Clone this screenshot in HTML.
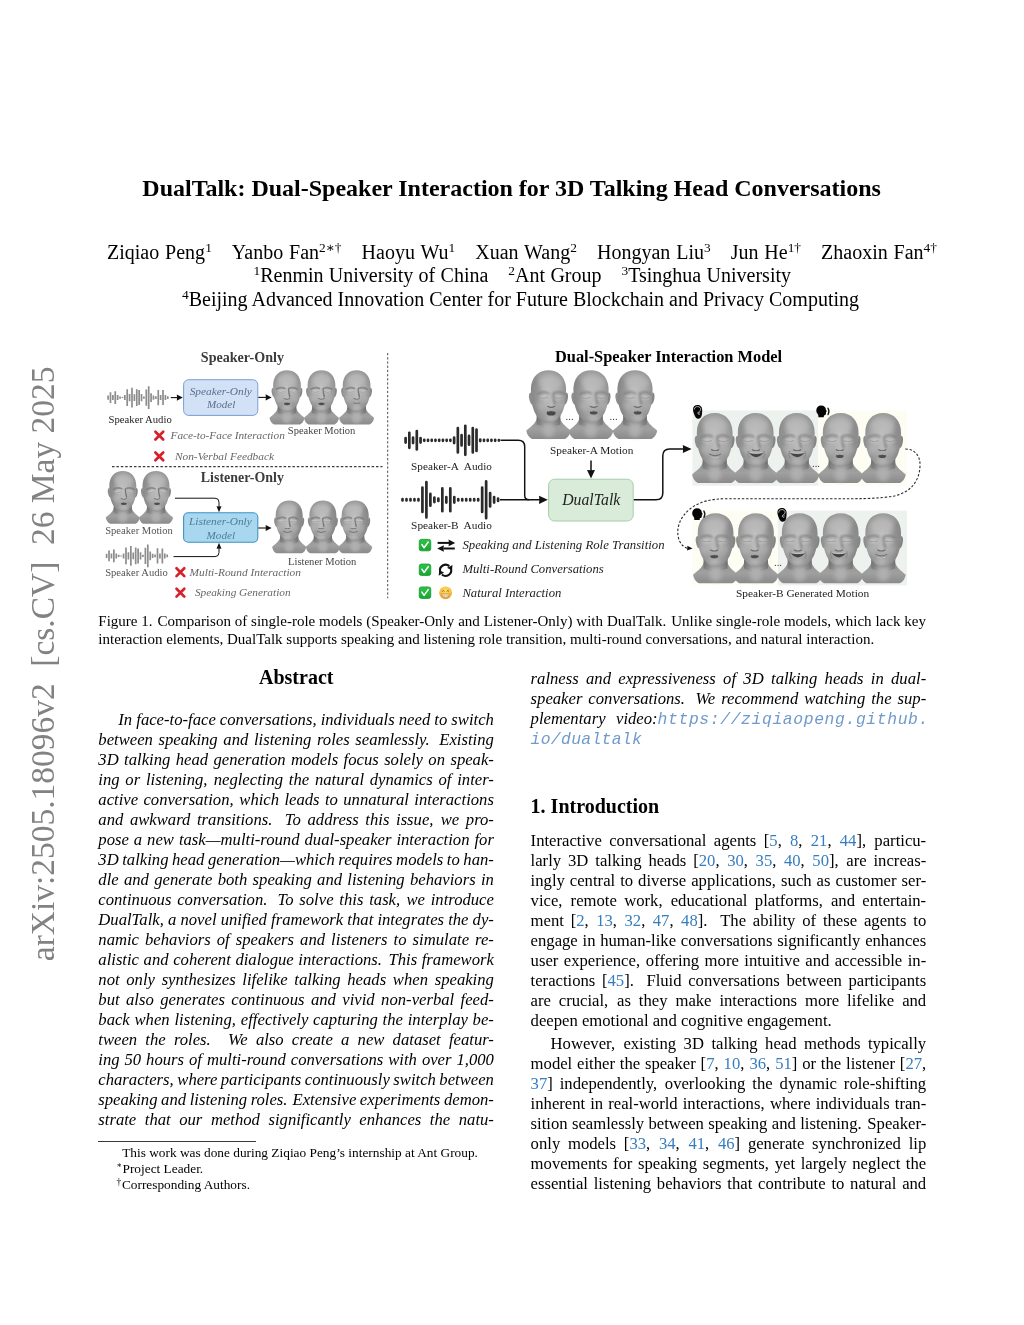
<!DOCTYPE html>
<html lang="en">
<head>
<meta charset="utf-8">
<title>DualTalk: Dual-Speaker Interaction for 3D Talking Head Conversations</title>
<style>
html,body{margin:0;padding:0;background:#fff;}
body{width:1024px;height:1325px;position:relative;overflow:hidden;
 font-family:"Liberation Serif","DejaVu Serif",serif;color:#000;}
.l{position:absolute;white-space:nowrap;line-height:0;height:0;margin:0;padding:0;}
.l>span.t{display:inline-block;line-height:0;white-space:nowrap;}
.b{font-weight:bold;}
.i{font-style:italic;}
.c{color:#367dbd;}
.u{font-family:"Liberation Mono","DejaVu Sans Mono",monospace;font-style:italic;color:#6f9acb;font-size:16.4px;letter-spacing:0.45px;}
.ss{display:inline-block;width:0;}
.q{display:inline-block;width:1em;}
sup{font-size:0.67em;vertical-align:baseline;position:relative;top:-0.51em;line-height:0;}
sup.fs{font-size:0.72em;top:-0.42em;letter-spacing:-0.3px;}
#stamp{position:absolute;left:0;top:0;width:0;height:0;}
#stamp span{position:absolute;white-space:nowrap;line-height:0;font-size:33.46px;color:#828282;
 transform-origin:0 0;transform:translate(42.9px,961.2px) rotate(-90deg);}
#rule{position:absolute;left:98.3px;top:1141px;width:157.6px;height:1px;background:#3a3a3a;}
#fig{position:absolute;left:0;top:0;}
#page{position:absolute;left:0;top:0;width:1024px;height:1325px;will-change:transform;}
</style>
</head>
<body>
<div id="page">
<div id="stamp"><span id="stampt">arXiv:2505.18096v2&nbsp; [cs.CV]&nbsp; 26 May 2025</span></div>
<svg id="fig" width="1024" height="1325" viewBox="0 0 1024 1325" font-family="'Liberation Serif','DejaVu Serif',serif">
<defs>
<radialGradient id="gh" cx="50%" cy="46%" r="62%" fx="47%" fy="42%">
 <stop offset="0" stop-color="#c3c3c3"/><stop offset=".45" stop-color="#aeaeae"/><stop offset=".8" stop-color="#949494"/><stop offset="1" stop-color="#7e7e7e"/>
</radialGradient>
<linearGradient id="gn" x1="0" x2="1" y1="0" y2="0">
 <stop offset="0" stop-color="#7a7a7a"/><stop offset=".35" stop-color="#a3a3a3"/><stop offset=".65" stop-color="#a3a3a3"/><stop offset="1" stop-color="#787878"/>
</linearGradient>
<linearGradient id="gb" x1="0" x2="0" y1="0" y2="1">
 <stop offset="0" stop-color="#8e8e8e"/><stop offset=".5" stop-color="#a0a0a0"/><stop offset="1" stop-color="#8a8a8a"/>
</linearGradient>
<linearGradient id="gsh" x1="0" x2="0" y1="0" y2="1">
 <stop offset="0" stop-color="#5f5f5f" stop-opacity=".5"/><stop offset="1" stop-color="#6a6a6a" stop-opacity="0"/>
</linearGradient>
<linearGradient id="gck" x1="0" x2="0" y1="0" y2="1"><stop offset="0" stop-color="#2cc448"/><stop offset="1" stop-color="#17a530"/></linearGradient>
<radialGradient id="gem" cx="50%" cy="38%" r="62%"><stop offset="0" stop-color="#ffe066"/><stop offset=".6" stop-color="#fbc53f"/><stop offset="1" stop-color="#ee9a2a"/></radialGradient>
<filter id="bl" x="-10%" y="-10%" width="120%" height="120%"><feGaussianBlur stdDeviation="1.9"/></filter>
<filter id="bl2" x="-20%" y="-20%" width="140%" height="140%"><feGaussianBlur stdDeviation="4.5"/></filter>
<filter id="bs" x="-5%" y="-5%" width="110%" height="110%"><feGaussianBlur stdDeviation="0.55"/></filter>
<clipPath id="hc"><path d="M50 0C74 0 89.500 17 89.500 44C89.500 62 88 78 82 92C76 106 64 118.500 50 118.500C36 118.500 24 106 18 92C12 78 10.500 62 10.500 44C10.500 17 26 0 50 0Z"/></clipPath>
<symbol id="hd" viewBox="0 0 100 155" overflow="visible">
 <path d="M24 108C20 122 9 127 0 136C2 146 7 152 13 154.500L87 154.500C93 152 98 146 100 136C91 127 80 122 76 108Z" fill="url(#gb)"/>
 <path d="M23.500 84V122Q50 134 76.500 122V84Z" fill="url(#gn)"/>
 <path d="M23.500 100Q50 128 76.500 100V122Q50 130 23.500 122Z" fill="url(#gsh)"/>
 <path d="M11 50C6 50 5 58 7 66C8.500 73 11 78 15 78Z" fill="#8e8e8e"/>
 <path d="M89 50C94 50 95 58 93 66C91.500 73 89 78 85 78Z" fill="#858585"/>
 <path d="M50 0C74 0 89.500 17 89.500 44C89.500 62 88 78 82 92C76 106 64 118.500 50 118.500C36 118.500 24 106 18 92C12 78 10.500 62 10.500 44C10.500 17 26 0 50 0Z" fill="url(#gh)"/>
 <ellipse cx="50" cy="136" rx="14" ry="15" fill="#b8b8b8" opacity=".7" filter="url(#bl2)"/>
</symbol>
<symbol id="ft" viewBox="0 0 100 155" overflow="visible">
 <g filter="url(#bl2)">
 <ellipse cx="50" cy="108" rx="13" ry="7" fill="#c4c4c4" opacity=".7"/>
 <ellipse cx="50" cy="27" rx="26" ry="16" fill="#bcbcbc" opacity=".6"/>
 <ellipse cx="27" cy="80" rx="9" ry="11" fill="#b8b8b8" opacity=".6"/>
 <ellipse cx="73" cy="80" rx="9" ry="11" fill="#b0b0b0" opacity=".6"/>
 </g>
 <g filter="url(#bl)">
 <path d="M18 55Q32 45 46 53" stroke="#7e7e7e" stroke-width="5" fill="none" opacity=".8"/>
 <path d="M54 53Q68 45 82 55" stroke="#7e7e7e" stroke-width="5" fill="none" opacity=".8"/>
 <ellipse cx="32.500" cy="61" rx="10" ry="5" fill="#c4c4c4" opacity=".85"/>
 <ellipse cx="67.500" cy="61" rx="10" ry="5" fill="#c1c1c1" opacity=".85"/>
 <path d="M48 52C47.500 62 45.500 72 43 79C47 83 53 83 57 79C54.500 72 52.500 62 52 52Z" fill="#bababa"/>
 <path d="M52.500 52C53 62 54.500 72 57 79C60 78 60.500 75 59 71C57 65 56 58 56 52Z" fill="#707070" opacity=".9"/>
 </g>
 <path d="M22 61Q32.500 65.500 43 61" stroke="#868686" stroke-width="1.300" fill="none" filter="url(#bs)"/>
 <path d="M57 61Q67.500 65.500 78 61" stroke="#868686" stroke-width="1.300" fill="none" filter="url(#bs)"/>
 <path d="M42 81Q50 86 58 81" stroke="#6a6a6a" stroke-width="2.400" fill="none" stroke-linecap="round" filter="url(#bs)"/>
</symbol>
</defs>
<text x="200.80" y="362.00" font-size="14.08" font-weight="bold" fill="#3c3c3c">Speaker-Only</text>
<text x="200.80" y="482.00" font-size="13.95" font-weight="bold" fill="#3c3c3c">Listener-Only</text>
<path d="M108.10 395.40V399.80M110.49 392.30V402.90M112.88 395.10V400.10M115.26 391.30V403.90M117.65 395.10V400.10M120.04 396.55V398.65M122.43 397.10V398.10M124.82 395.10V400.10M127.20 389.30V405.90M129.59 393.90V401.30M131.98 387.80V407.40M134.37 394.30V400.90M136.76 389.30V405.90M139.14 390.10V405.10M141.53 393.90V401.30M143.92 396.55V398.65M146.31 389.50V405.70M148.70 386.20V409.00M151.08 393.20V402.00M153.47 395.40V399.80M155.86 396.30V398.90M158.25 389.90V405.30M160.64 395.10V400.10M163.02 390.10V405.10M165.41 395.10V400.10M167.80 396.30V398.90" stroke="#8c8c8c" stroke-width="1.70" stroke-linecap="butt" fill="none"/>
<path d="M106.60 553.70V558.10M109.02 550.60V561.20M111.45 553.40V558.40M113.87 549.60V562.20M116.30 553.40V558.40M118.72 554.85V556.95M121.14 555.40V556.40M123.57 553.40V558.40M125.99 547.60V564.20M128.42 552.20V559.60M130.84 546.10V565.70M133.26 552.60V559.20M135.69 547.60V564.20M138.11 548.40V563.40M140.54 552.20V559.60M142.96 554.85V556.95M145.38 547.80V564.00M147.81 544.50V567.30M150.23 551.50V560.30M152.66 553.70V558.10M155.08 554.60V557.20M157.50 548.20V563.60M159.93 553.40V558.40M162.35 548.40V563.40M164.78 553.40V558.40M167.20 554.60V557.20" stroke="#8c8c8c" stroke-width="1.70" stroke-linecap="butt" fill="none"/>
<path d="M112 466.7H382.5" stroke="#3c3c3c" stroke-width="1.3" stroke-dasharray="2.5 1.9" fill="none"/>
<path d="M387.7 353V598.2" stroke="#444" stroke-width="0.95" stroke-dasharray="2.3 1.9" fill="none"/>
<rect x="183.6" y="379.7" width="74.2" height="35.7" rx="5" ry="5" fill="#d2e1f6" stroke="#7c9fd2" stroke-width="1"/>
<text x="189.70" y="394.60" font-size="11.37" font-style="italic" fill="#5b6f8a">Speaker-Only</text>
<text x="207.00" y="407.70" font-size="11.12" font-style="italic" fill="#5b6f8a">Model</text>
<path d="M170.8 397.6H179" stroke="#111" stroke-width="1.1" fill="none"/>
<path d="M182.80 397.60 L176.80 400.70 L177.04 397.60 L176.80 394.50 Z" fill="#111"/>
<path d="M258.3 397.4H268" stroke="#111" stroke-width="1.1" fill="none"/>
<path d="M271.60 397.40 L265.60 400.50 L265.84 397.40 L265.60 394.30 Z" fill="#111"/>
<g transform="translate(269.45 370.20) scale(0.3510)" filter="url(#bs)">
<use href="#hd" width="100" height="155"/>
<g clip-path="url(#hc)"><use href="#ft" x="0.0" width="100" height="155"/></g>
<ellipse cx="50.0" cy="95" rx="8.5" ry="4.6" fill="#4e4e4e"/>
<path d="M43.0 92.2 Q50.0 90 57.0 92.2" stroke="#c9c9c9" stroke-width="1.6" fill="none"/>
</g>
<g transform="translate(303.95 370.20) scale(0.3510)" filter="url(#bs)">
<use href="#hd" width="100" height="155"/>
<g clip-path="url(#hc)"><use href="#ft" x="0.0" width="100" height="155"/></g>
<ellipse cx="50.0" cy="95" rx="8.5" ry="4.6" fill="#4e4e4e"/>
<path d="M43.0 92.2 Q50.0 90 57.0 92.2" stroke="#c9c9c9" stroke-width="1.6" fill="none"/>
</g>
<g transform="translate(339.05 370.20) scale(0.3510)" filter="url(#bs)">
<use href="#hd" width="100" height="155"/>
<g clip-path="url(#hc)"><use href="#ft" x="0.0" width="100" height="155"/></g>
<path d="M41.0 94 Q50.0 96 59.0 94" stroke="#6c6c6c" stroke-width="2" fill="none" stroke-linecap="round"/>
<path d="M43.0 98.5 Q50.0 101 57.0 98.5" stroke="#c4c4c4" stroke-width="2" fill="none" opacity=".7"/>
</g>
<text x="108.60" y="422.80" font-size="10.68" fill="#1c1c1c">Speaker Audio</text>
<text x="287.80" y="433.80" font-size="10.54" fill="#454545">Speaker Motion</text>
<path d="M155.40 431.70L163.20 439.50M163.20 431.70L155.40 439.50" stroke="#d6202a" stroke-width="2.7" stroke-linecap="round" fill="none"/>
<text x="170.60" y="439.00" font-size="11.27" font-style="italic" fill="#666">Face-to-Face Interaction</text>
<path d="M155.40 452.50L163.20 460.30M163.20 452.50L155.40 460.30" stroke="#d6202a" stroke-width="2.7" stroke-linecap="round" fill="none"/>
<text x="175.00" y="460.10" font-size="11.32" font-style="italic" fill="#666">Non-Verbal Feedback</text>
<g transform="translate(105.70 471.00) scale(0.3419)" filter="url(#bs)">
<use href="#hd" width="100" height="155"/>
<g clip-path="url(#hc)"><ellipse cx="20.0" cy="62" rx="10.8" ry="44" fill="#666" opacity=".3" filter="url(#bl2)"/></g>
<g clip-path="url(#hc)"><use href="#ft" x="3.0" width="100" height="155"/></g>
<ellipse cx="53.0" cy="95" rx="8.5" ry="4.6" fill="#4e4e4e"/>
<path d="M46.0 92.2 Q53.0 90 60.0 92.2" stroke="#c9c9c9" stroke-width="1.6" fill="none"/>
</g>
<g transform="translate(138.90 471.00) scale(0.3419)" filter="url(#bs)">
<use href="#hd" width="100" height="155"/>
<g clip-path="url(#hc)"><ellipse cx="20.0" cy="62" rx="10.8" ry="44" fill="#666" opacity=".3" filter="url(#bl2)"/></g>
<g clip-path="url(#hc)"><use href="#ft" x="3.0" width="100" height="155"/></g>
<ellipse cx="53.0" cy="95" rx="8.5" ry="4.6" fill="#4e4e4e"/>
<path d="M46.0 92.2 Q53.0 90 60.0 92.2" stroke="#c9c9c9" stroke-width="1.6" fill="none"/>
</g>
<text x="105.20" y="533.80" font-size="10.55" fill="#555">Speaker Motion</text>
<text x="105.20" y="575.70" font-size="10.58" fill="#555">Speaker Audio</text>
<rect x="183.6" y="512.7" width="74.2" height="29.6" rx="4.5" ry="4.5" fill="#a9d7ef" stroke="#3f93c4" stroke-width="1.1"/>
<text x="189.00" y="525.20" font-size="11.35" font-style="italic" fill="#4d7d94">Listener-Only</text>
<text x="206.60" y="538.60" font-size="11.12" font-style="italic" fill="#4d7d94">Model</text>
<path d="M175 498.2H215Q219 498.2 219 502.2V508" stroke="#111" stroke-width="1" fill="none"/>
<path d="M219.00 512.30 L216.50 506.30 L219.00 506.54 L221.50 506.30 Z" fill="#111"/>
<path d="M173.5 556.6H215Q219 556.6 219 552.6V547" stroke="#111" stroke-width="1" fill="none"/>
<path d="M219.00 542.70 L221.50 548.70 L219.00 548.46 L216.50 548.70 Z" fill="#111"/>
<path d="M258.3 528H268" stroke="#111" stroke-width="1.1" fill="none"/>
<path d="M271.60 528.00 L265.60 531.10 L265.84 528.00 L265.60 524.90 Z" fill="#111"/>
<g transform="translate(272.10 500.40) scale(0.3419)" filter="url(#bs)">
<use href="#hd" width="100" height="155"/>
<g clip-path="url(#hc)"><ellipse cx="80.0" cy="62" rx="14.0" ry="44" fill="#666" opacity=".3" filter="url(#bl2)"/></g>
<g clip-path="url(#hc)"><use href="#ft" x="-5.0" width="100" height="155"/></g>
<path d="M33.0 91 Q45.0 98 57.0 91" stroke="#6a6a6a" stroke-width="2.2" fill="none" stroke-linecap="round"/>
<path d="M36.0 97 Q45.0 102 54.0 97" stroke="#c6c6c6" stroke-width="2" fill="none" opacity=".7"/>
</g>
<g transform="translate(305.80 500.40) scale(0.3419)" filter="url(#bs)">
<use href="#hd" width="100" height="155"/>
<g clip-path="url(#hc)"><ellipse cx="80.0" cy="62" rx="14.0" ry="44" fill="#666" opacity=".3" filter="url(#bl2)"/></g>
<g clip-path="url(#hc)"><use href="#ft" x="-5.0" width="100" height="155"/></g>
<path d="M33.0 91 Q45.0 98 57.0 91" stroke="#6a6a6a" stroke-width="2.2" fill="none" stroke-linecap="round"/>
<path d="M36.0 97 Q45.0 102 54.0 97" stroke="#c6c6c6" stroke-width="2" fill="none" opacity=".7"/>
</g>
<g transform="translate(338.10 500.40) scale(0.3419)" filter="url(#bs)">
<use href="#hd" width="100" height="155"/>
<g clip-path="url(#hc)"><ellipse cx="80.0" cy="62" rx="14.0" ry="44" fill="#666" opacity=".3" filter="url(#bl2)"/></g>
<g clip-path="url(#hc)"><use href="#ft" x="-5.0" width="100" height="155"/></g>
<path d="M33.0 91 Q45.0 98 57.0 91" stroke="#6a6a6a" stroke-width="2.2" fill="none" stroke-linecap="round"/>
<path d="M36.0 97 Q45.0 102 54.0 97" stroke="#c6c6c6" stroke-width="2" fill="none" opacity=".7"/>
</g>
<text x="288.00" y="565.30" font-size="10.57" fill="#454545">Listener Motion</text>
<path d="M176.50 568.30L184.30 576.10M184.30 568.30L176.50 576.10" stroke="#d6202a" stroke-width="2.7" stroke-linecap="round" fill="none"/>
<text x="189.60" y="575.70" font-size="11.36" font-style="italic" fill="#666">Multi-Round Interaction</text>
<path d="M176.50 588.80L184.30 596.60M184.30 588.80L176.50 596.60" stroke="#d6202a" stroke-width="2.7" stroke-linecap="round" fill="none"/>
<text x="194.90" y="596.20" font-size="11.31" font-style="italic" fill="#666">Speaking Generation</text>
<text x="555.00" y="362.00" font-size="16.39" font-weight="bold" fill="#000">Dual-Speaker Interaction Model</text>
<path d="M405.60 438.00V442.60M409.33 432.80V447.80M413.06 437.50V443.10M416.80 431.20V449.40M420.53 438.00V442.60M424.26 439.80V440.80M427.99 439.80V440.80M431.72 439.80V440.80M435.46 439.80V440.80M439.19 439.80V440.80M442.92 439.80V440.80M446.65 439.80V440.80M450.38 439.80V440.80M454.12 437.50V443.10M457.85 428.10V452.50M461.58 435.15V445.45M465.31 425.80V454.80M469.04 435.90V444.70M472.78 428.10V452.50M476.51 429.70V450.90M480.24 439.50V441.10M483.97 439.80V440.80M487.70 439.80V440.80M491.44 439.80V440.80M495.17 439.80V440.80M498.90 440.00V440.60" stroke="#2b2b2b" stroke-width="2.70" stroke-linecap="round" fill="none"/>
<path d="M402.50 499.20V500.40M406.48 499.20V500.40M410.47 499.20V500.40M414.45 499.20V500.40M418.43 499.20V500.40M422.42 487.60V512.00M426.40 482.10V517.50M430.38 493.90V505.70M434.37 497.50V502.10M438.35 498.60V501.00M442.33 488.40V511.20M446.32 497.00V502.60M450.30 488.40V511.20M454.28 497.00V502.60M458.27 499.20V500.40M462.25 499.20V500.40M466.23 499.20V500.40M470.22 499.20V500.40M474.20 499.20V500.40M478.18 499.20V500.40M482.17 487.60V512.00M486.15 481.40V518.20M490.13 493.10V506.50M494.12 497.00V502.60M498.10 498.60V501.00" stroke="#2b2b2b" stroke-width="2.70" stroke-linecap="round" fill="none"/>
<text x="411.10" y="469.70" font-size="11.22" fill="#1c1c1c">Speaker-A&#160; Audio</text>
<text x="411.10" y="528.90" font-size="11.31" fill="#1c1c1c">Speaker-B&#160; Audio</text>
<path d="M500.6 440.3H518.200Q524.700 440.3 524.700 446.800V495.300Q524.700 499.8 529.200 499.8" stroke="#111" stroke-width="1.45" fill="none"/>
<path d="M500 499.8H541" stroke="#111" stroke-width="1.45" fill="none"/>
<path d="M547.80 499.80 L539.00 503.90 L539.35 499.80 L539.00 495.70 Z" fill="#111"/>
<rect x="548.6" y="479.2" width="84.6" height="41.8" rx="6" ry="6" fill="#d9ecd9" stroke="#a9cbaa" stroke-width="1"/>
<text x="562.20" y="504.50" font-size="15.76" font-style="italic" fill="#222">DualTalk</text>
<path d="M591 460.5V472" stroke="#111" stroke-width="1.5" fill="none"/>
<path d="M591.00 478.60 L587.00 470.00 L591.00 470.34 L595.00 470.00 Z" fill="#111"/>
<path d="M633.8 499.8H656Q662.8 499.8 662.8 493V455.8Q662.8 449 669.6 449H684" stroke="#111" stroke-width="1.5" fill="none"/>
<path d="M691.60 449.00 L682.80 453.10 L683.15 449.00 L682.80 444.90 Z" fill="#111"/>
<g transform="translate(526.24 370.20) scale(0.4452)" filter="url(#bs)">
<use href="#hd" width="100" height="155"/>
<g clip-path="url(#hc)"><ellipse cx="20.0" cy="62" rx="15.6" ry="44" fill="#666" opacity=".3" filter="url(#bl2)"/></g>
<g clip-path="url(#hc)"><use href="#ft" x="6.0" width="100" height="155"/></g>
<ellipse cx="56.0" cy="96" rx="10" ry="6" fill="#474747"/>
<path d="M48.0 92 Q56.0 89.5 64.0 92" stroke="#cacaca" stroke-width="1.8" fill="none"/>
</g>
<g transform="translate(568.74 370.20) scale(0.4452)" filter="url(#bs)">
<use href="#hd" width="100" height="155"/>
<g clip-path="url(#hc)"><ellipse cx="20.0" cy="62" rx="15.6" ry="44" fill="#666" opacity=".3" filter="url(#bl2)"/></g>
<g clip-path="url(#hc)"><use href="#ft" x="6.0" width="100" height="155"/></g>
<ellipse cx="56.0" cy="95" rx="8.5" ry="4.6" fill="#4e4e4e"/>
<path d="M49.0 92.2 Q56.0 90 63.0 92.2" stroke="#c9c9c9" stroke-width="1.6" fill="none"/>
</g>
<g transform="translate(612.74 370.20) scale(0.4452)" filter="url(#bs)">
<use href="#hd" width="100" height="155"/>
<g clip-path="url(#hc)"><ellipse cx="20.0" cy="62" rx="15.6" ry="44" fill="#666" opacity=".3" filter="url(#bl2)"/></g>
<g clip-path="url(#hc)"><use href="#ft" x="6.0" width="100" height="155"/></g>
<ellipse cx="56.0" cy="95" rx="8.5" ry="4.6" fill="#4e4e4e"/>
<path d="M49.0 92.2 Q56.0 90 63.0 92.2" stroke="#c9c9c9" stroke-width="1.6" fill="none"/>
</g>
<text x="565.60" y="419.60" font-size="10.67" fill="#333">...</text>
<text x="609.60" y="419.60" font-size="10.67" fill="#333">...</text>
<text x="550.00" y="454.30" font-size="11.28" fill="#1c1c1c">Speaker-A Motion</text>
<rect x="692.4" y="410.4" width="126" height="75.4" fill="#eef2ef"/>
<rect x="818.4" y="410.4" width="88.6" height="75.4" fill="#fdfdf3"/>
<rect x="692.4" y="510.6" width="85.6" height="74.8" fill="#fdfdf3"/>
<rect x="778" y="510.6" width="129" height="74.8" fill="#eef2ef"/>
<g transform="translate(692.05 413.00) scale(0.4529)" filter="url(#bs)">
<use href="#hd" width="100" height="155"/>
<g clip-path="url(#hc)"><ellipse cx="20.0" cy="62" rx="7.6" ry="44" fill="#666" opacity=".3" filter="url(#bl2)"/></g>
<g clip-path="url(#hc)"><use href="#ft" x="1.0" width="100" height="155"/></g>
<path d="M39.0 91 Q51.0 98 63.0 91" stroke="#6a6a6a" stroke-width="2.2" fill="none" stroke-linecap="round"/>
<path d="M42.0 97 Q51.0 102 60.0 97" stroke="#c6c6c6" stroke-width="2" fill="none" opacity=".7"/>
</g>
<g transform="translate(733.05 413.00) scale(0.4529)" filter="url(#bs)">
<use href="#hd" width="100" height="155"/>
<g clip-path="url(#hc)"><ellipse cx="20.0" cy="62" rx="7.6" ry="44" fill="#666" opacity=".3" filter="url(#bl2)"/></g>
<g clip-path="url(#hc)"><use href="#ft" x="1.0" width="100" height="155"/></g>
<path d="M35.0 88 Q51.0 92 67.0 88 Q51.0 107 35.0 88 Z" fill="#454545"/>
<path d="M37.0 87.5 Q51.0 91 65.0 87.5" stroke="#cfcfcf" stroke-width="1.8" fill="none"/>
<path d="M34.0 84 Q30.0 92 36.0 100" stroke="#7a7a7a" stroke-width="1.6" fill="none"/>
<path d="M68.0 84 Q72.0 92 66.0 100" stroke="#7a7a7a" stroke-width="1.6" fill="none"/>
</g>
<g transform="translate(774.15 413.00) scale(0.4529)" filter="url(#bs)">
<use href="#hd" width="100" height="155"/>
<g clip-path="url(#hc)"><ellipse cx="20.0" cy="62" rx="7.6" ry="44" fill="#666" opacity=".3" filter="url(#bl2)"/></g>
<g clip-path="url(#hc)"><use href="#ft" x="1.0" width="100" height="155"/></g>
<path d="M35.0 88 Q51.0 92 67.0 88 Q51.0 107 35.0 88 Z" fill="#454545"/>
<path d="M37.0 87.5 Q51.0 91 65.0 87.5" stroke="#cfcfcf" stroke-width="1.8" fill="none"/>
<path d="M34.0 84 Q30.0 92 36.0 100" stroke="#7a7a7a" stroke-width="1.6" fill="none"/>
<path d="M68.0 84 Q72.0 92 66.0 100" stroke="#7a7a7a" stroke-width="1.6" fill="none"/>
</g>
<g transform="translate(818.05 413.00) scale(0.4529)" filter="url(#bs)">
<use href="#hd" width="100" height="155"/>
<g clip-path="url(#hc)"><ellipse cx="80.0" cy="62" rx="9.2" ry="44" fill="#666" opacity=".3" filter="url(#bl2)"/></g>
<g clip-path="url(#hc)"><use href="#ft" x="-2.0" width="100" height="155"/></g>
<ellipse cx="48.0" cy="95" rx="8.5" ry="4.6" fill="#4e4e4e"/>
<path d="M41.0 92.2 Q48.0 90 55.0 92.2" stroke="#c9c9c9" stroke-width="1.6" fill="none"/>
</g>
<g transform="translate(860.55 413.00) scale(0.4529)" filter="url(#bs)">
<use href="#hd" width="100" height="155"/>
<g clip-path="url(#hc)"><ellipse cx="80.0" cy="62" rx="9.2" ry="44" fill="#666" opacity=".3" filter="url(#bl2)"/></g>
<g clip-path="url(#hc)"><use href="#ft" x="-2.0" width="100" height="155"/></g>
<ellipse cx="48.0" cy="95" rx="8.5" ry="4.6" fill="#4e4e4e"/>
<path d="M41.0 92.2 Q48.0 90 55.0 92.2" stroke="#c9c9c9" stroke-width="1.6" fill="none"/>
</g>
<g transform="translate(692.99 513.30) scale(0.4523)" filter="url(#bs)">
<use href="#hd" width="100" height="155"/>
<g clip-path="url(#hc)"><ellipse cx="80.0" cy="62" rx="10.8" ry="44" fill="#666" opacity=".3" filter="url(#bl2)"/></g>
<g clip-path="url(#hc)"><use href="#ft" x="-3.0" width="100" height="155"/></g>
<ellipse cx="47.0" cy="95" rx="8.5" ry="4.6" fill="#4e4e4e"/>
<path d="M40.0 92.2 Q47.0 90 54.0 92.2" stroke="#c9c9c9" stroke-width="1.6" fill="none"/>
</g>
<g transform="translate(733.39 513.30) scale(0.4523)" filter="url(#bs)">
<use href="#hd" width="100" height="155"/>
<g clip-path="url(#hc)"><ellipse cx="80.0" cy="62" rx="10.8" ry="44" fill="#666" opacity=".3" filter="url(#bl2)"/></g>
<g clip-path="url(#hc)"><use href="#ft" x="-3.0" width="100" height="155"/></g>
<ellipse cx="47.0" cy="95" rx="8.5" ry="4.6" fill="#4e4e4e"/>
<path d="M40.0 92.2 Q47.0 90 54.0 92.2" stroke="#c9c9c9" stroke-width="1.6" fill="none"/>
</g>
<g transform="translate(777.09 513.30) scale(0.4523)" filter="url(#bs)">
<use href="#hd" width="100" height="155"/>
<g clip-path="url(#hc)"><ellipse cx="80.0" cy="62" rx="12.4" ry="44" fill="#666" opacity=".3" filter="url(#bl2)"/></g>
<g clip-path="url(#hc)"><use href="#ft" x="-4.0" width="100" height="155"/></g>
<path d="M30.0 88 Q46.0 92 62.0 88 Q46.0 107 30.0 88 Z" fill="#454545"/>
<path d="M32.0 87.5 Q46.0 91 60.0 87.5" stroke="#cfcfcf" stroke-width="1.8" fill="none"/>
<path d="M29.0 84 Q25.0 92 31.0 100" stroke="#7a7a7a" stroke-width="1.6" fill="none"/>
<path d="M63.0 84 Q67.0 92 61.0 100" stroke="#7a7a7a" stroke-width="1.6" fill="none"/>
</g>
<g transform="translate(818.09 513.30) scale(0.4523)" filter="url(#bs)">
<use href="#hd" width="100" height="155"/>
<g clip-path="url(#hc)"><ellipse cx="80.0" cy="62" rx="12.4" ry="44" fill="#666" opacity=".3" filter="url(#bl2)"/></g>
<g clip-path="url(#hc)"><use href="#ft" x="-4.0" width="100" height="155"/></g>
<path d="M30.0 88 Q46.0 92 62.0 88 Q46.0 107 30.0 88 Z" fill="#454545"/>
<path d="M32.0 87.5 Q46.0 91 60.0 87.5" stroke="#cfcfcf" stroke-width="1.8" fill="none"/>
<path d="M29.0 84 Q25.0 92 31.0 100" stroke="#7a7a7a" stroke-width="1.6" fill="none"/>
<path d="M63.0 84 Q67.0 92 61.0 100" stroke="#7a7a7a" stroke-width="1.6" fill="none"/>
</g>
<g transform="translate(860.59 513.30) scale(0.4523)" filter="url(#bs)">
<use href="#hd" width="100" height="155"/>
<g clip-path="url(#hc)"><ellipse cx="80.0" cy="62" rx="12.4" ry="44" fill="#666" opacity=".3" filter="url(#bl2)"/></g>
<g clip-path="url(#hc)"><use href="#ft" x="-4.0" width="100" height="155"/></g>
<path d="M34.0 91 Q46.0 98 58.0 91" stroke="#6a6a6a" stroke-width="2.2" fill="none" stroke-linecap="round"/>
<path d="M37.0 97 Q46.0 102 55.0 97" stroke="#c6c6c6" stroke-width="2" fill="none" opacity=".7"/>
</g>
<text x="812.00" y="466.50" font-size="10.67" fill="#333">...</text>
<text x="774.00" y="566.00" font-size="10.67" fill="#333">...</text>
<text x="736.00" y="597.40" font-size="11.33" fill="#1c1c1c">Speaker-B Generated Motion</text>
<path d="M905.3 449C915 449 920.500 456 920 466C919.500 480 912 492 894 496C880 498.700 860 498.700 850 498.700L728 498.700C712 498.700 700 501 690 509C680 517 676 528 678.500 538C680 544 684 547.500 688 548.400" stroke="#2a2a2a" stroke-width="1.1" stroke-dasharray="2.4 1.8" fill="none"/>
<path d="M692.60 548.60 L686.92 550.41 L687.34 548.14 L687.32 545.83 Z" fill="#111"/>
<g transform="translate(697.60 411.90) scale(1.000)">
<path d="M-0.4 -6.9C2.600 -7 4.700 -4.900 4.600 -2C4.550 0.200 4.500 1.600 4.200 3C3.800 5.200 2.300 7 0.300 6.800C-1.800 6.600 -2.800 4.200 -3.600 1.800C-4.200 0 -4.800 -1.600 -4.500 -3.400C-4.200 -5.500 -2.600 -6.850 -0.400 -6.900Z" fill="#050505"/>
<path d="M-3.300 -2.700C-3.100 -4.600 -1.500 -5.400 0 -5.300C1.800 -5.200 3.200 -4.100 3.100 -2.600C3.050 -1.900 2.700 -1.400 2.300 -1" stroke="#e8e8e8" stroke-width="0.75" fill="none" stroke-linecap="round"/>
<path d="M2.200 0.100C1 -0.300 0.200 0.500 0.300 1.300C0.400 2.100 1.300 2.600 2.100 2.200" stroke="#f4f4f4" stroke-width="0.85" fill="none" stroke-linecap="round"/>
</g>
<g transform="translate(821.70 411.50) scale(1.000)">
<path d="M-0.6 -6.05C2.300 -6.050 4.200 -4.100 4.250 -1.800C4.270 -1.400 5.100 -0.600 5.100 -0.200C5.100 0.250 4.300 0.300 4.300 0.700C4.300 1.300 4.500 1.700 4.100 2.200C4.100 3.200 3.500 3.700 2.500 3.700C2.100 3.700 2.100 5.800 2.100 5.800H-3.300C-3.200 4.200 -3.400 3.300 -4.200 2.300C-5.100 1.200 -5.500 0.100 -5.400 -1.500C-5.200 -4.200 -3.200 -6.050 -0.600 -6.050Z" fill="#050505"/>
<path d="M6.200 -3.300Q8.300 -0.100 6.300 3.100" stroke="#151515" stroke-width="1.25" fill="none" stroke-linecap="round"/>
</g>
<g transform="translate(697.60 514.20) scale(1.000)">
<path d="M-0.6 -6.05C2.300 -6.050 4.200 -4.100 4.250 -1.800C4.270 -1.400 5.100 -0.600 5.100 -0.200C5.100 0.250 4.300 0.300 4.300 0.700C4.300 1.300 4.500 1.700 4.100 2.200C4.100 3.200 3.500 3.700 2.500 3.700C2.100 3.700 2.100 5.800 2.100 5.800H-3.300C-3.200 4.200 -3.400 3.300 -4.200 2.300C-5.100 1.200 -5.500 0.100 -5.400 -1.500C-5.200 -4.200 -3.200 -6.050 -0.600 -6.050Z" fill="#050505"/>
<path d="M6.200 -3.300Q8.300 -0.100 6.300 3.100" stroke="#151515" stroke-width="1.25" fill="none" stroke-linecap="round"/>
</g>
<g transform="translate(782.00 514.90) scale(1.000)">
<path d="M-0.4 -6.9C2.600 -7 4.700 -4.900 4.600 -2C4.550 0.200 4.500 1.600 4.200 3C3.800 5.200 2.300 7 0.300 6.800C-1.800 6.600 -2.800 4.200 -3.600 1.800C-4.200 0 -4.800 -1.600 -4.500 -3.400C-4.200 -5.500 -2.600 -6.850 -0.400 -6.900Z" fill="#050505"/>
<path d="M-3.300 -2.700C-3.100 -4.600 -1.500 -5.400 0 -5.300C1.800 -5.200 3.200 -4.100 3.100 -2.600C3.050 -1.900 2.700 -1.400 2.300 -1" stroke="#e8e8e8" stroke-width="0.75" fill="none" stroke-linecap="round"/>
<path d="M2.200 0.100C1 -0.300 0.200 0.500 0.300 1.300C0.400 2.100 1.300 2.600 2.100 2.200" stroke="#f4f4f4" stroke-width="0.85" fill="none" stroke-linecap="round"/>
</g>
<rect x="419.25" y="539.35" width="11.50" height="11.50" rx="2.2" ry="2.2" fill="url(#gck)" stroke="#18982f" stroke-width=".8"/>
<path d="M421.90 544.50L424.10 547.80L428.20 542.00" stroke="#fff" stroke-width="1.5" fill="none" stroke-linecap="round" stroke-linejoin="round"/>
<rect x="419.25" y="564.05" width="11.50" height="11.50" rx="2.2" ry="2.2" fill="url(#gck)" stroke="#18982f" stroke-width=".8"/>
<path d="M421.90 569.20L424.10 572.50L428.20 566.70" stroke="#fff" stroke-width="1.5" fill="none" stroke-linecap="round" stroke-linejoin="round"/>
<rect x="419.25" y="586.95" width="11.50" height="11.50" rx="2.2" ry="2.2" fill="url(#gck)" stroke="#18982f" stroke-width=".8"/>
<path d="M421.90 592.10L424.10 595.40L428.20 589.60" stroke="#fff" stroke-width="1.5" fill="none" stroke-linecap="round" stroke-linejoin="round"/>
<path d="M437.6 542.9H449" stroke="#111" stroke-width="2" fill="none"/>
<path d="M455.20 542.90 L448.60 546.20 L448.86 542.90 L448.60 539.60 Z" fill="#111"/>
<path d="M454.8 548.5H443.4" stroke="#111" stroke-width="2" fill="none"/>
<path d="M437.20 548.50 L443.80 545.20 L443.54 548.50 L443.80 551.80 Z" fill="#111"/>
<path d="M440.15 571.6A5.6 5.6 0 0 1 449.3 566.1" stroke="#111" stroke-width="2.1" fill="none"/>
<path d="M452.00 570.60 L447.01 567.82 L449.84 566.53 L452.48 564.91 Z" fill="#111"/>
<path d="M451.05 569A5.6 5.6 0 0 1 441.9 574.500" stroke="#111" stroke-width="2.1" fill="none"/>
<path d="M439.20 570.00 L444.19 572.78 L441.36 574.07 L438.72 575.69 Z" fill="#111"/>
<circle cx="445.6" cy="592.8" r="6.4" fill="url(#gem)"/>
<path d="M441.7 593.8H449.5Q449.3 597.6 445.6 597.6Q441.9 597.6 441.7 593.8Z" fill="#f6ecd6" stroke="#a9701f" stroke-width=".55"/>
<path d="M441.9 595.6H449.3M444.3 593.8V597.4M446.9 593.8V597.4" stroke="#c9a56a" stroke-width=".4" fill="none"/>
<path d="M442.3 591.1Q443.3 589.7 444.3 591.1M446.9 591.1Q447.9 589.7 448.9 591.1" stroke="#7d5216" stroke-width=".85" fill="none" stroke-linecap="round"/>
<text x="462.40" y="549.40" font-size="12.77" font-style="italic" fill="#1c1c1c">Speaking and Listening Role Transition</text>
<text x="462.40" y="572.80" font-size="12.70" font-style="italic" fill="#1c1c1c">Multi-Round Conversations</text>
<text x="462.40" y="597.00" font-size="12.68" font-style="italic" fill="#1c1c1c">Natural Interaction</text>
</svg>
<div class="l b" style="left:142.30px;top:187.90px;font-size:24.00px;word-spacing:-0.057px;"><span class="t" id="L0">DualTalk: Dual-Speaker Interaction for 3D Talking Head Conversations</span></div>
<div class="l au" style="left:107.00px;top:251.85px;font-size:20.00px;word-spacing:0.904px;"><span class="t" id="L1">Ziqiao Peng<sup>1</sup><span class="q"></span>Yanbo Fan<sup>2&lowast;&dagger;</sup><span class="q"></span>Haoyu Wu<sup>1</sup><span class="q"></span>Xuan Wang<sup>2</sup><span class="q"></span>Hongyan Liu<sup>3</sup><span class="q"></span>Jun He<sup>1&dagger;</sup><span class="q"></span>Zhaoxin Fan<sup>4&dagger;</sup></span></div>
<div class="l au" style="left:253.50px;top:275.25px;font-size:20.00px;word-spacing:0.319px;"><span class="t" id="L2"><sup>1</sup>Renmin University of China<span class="q"></span><sup>2</sup>Ant Group<span class="q"></span><sup>3</sup>Tsinghua University</span></div>
<div class="l au" style="left:182.00px;top:298.65px;font-size:20.00px;word-spacing:-0.014px;"><span class="t" id="L3"><sup>4</sup>Beijing Advanced Innovation Center for Future Blockchain and Privacy Computing</span></div>
<div class="l " style="left:98.30px;top:620.94px;font-size:15.00px;word-spacing:0.110px;"><span class="t" id="L4">Figure 1.<span class="ss" style="width:1.12px"></span> Comparison of single-role models (Speaker-Only and Listener-Only) with DualTalk.<span class="ss" style="width:1.12px"></span> Unlike single-role models,<span class="ss" style="width:0.03px"></span> which lack key</span></div>
<div class="l " style="left:98.30px;top:639.34px;font-size:15.00px;"><span class="t" id="L5">interaction elements, DualTalk supports speaking and listening role transition, multi-round conversations, and natural interaction.</span></div>
<div class="l b" style="left:259.00px;top:677.45px;font-size:20.00px;"><span class="t" id="L6">Abstract</span></div>
<div class="l i" style="left:118.30px;top:719.77px;font-size:16.67px;word-spacing:-0.082px;"><span class="t" id="L7">In face-to-face conversations,<span class="ss" style="width:0.02px"></span> individuals need to switch</span></div>
<div class="l i" style="left:98.30px;top:739.78px;font-size:16.67px;word-spacing:1.462px;"><span class="t" id="L8">between speaking and listening roles seamlessly.<span class="ss" style="width:3.92px"></span> Existing</span></div>
<div class="l i" style="left:98.30px;top:759.78px;font-size:16.67px;word-spacing:1.225px;"><span class="t" id="L9">3D talking head generation models focus solely on speak-</span></div>
<div class="l i" style="left:98.30px;top:779.78px;font-size:16.67px;word-spacing:1.618px;"><span class="t" id="L10">ing or listening,<span class="ss" style="width:0.40px"></span> neglecting the natural dynamics of inter-</span></div>
<div class="l i" style="left:98.30px;top:799.79px;font-size:16.67px;word-spacing:1.194px;"><span class="t" id="L11">active conversation,<span class="ss" style="width:0.30px"></span> which leads to unnatural interactions</span></div>
<div class="l i" style="left:98.30px;top:819.79px;font-size:16.67px;word-spacing:2.440px;"><span class="t" id="L12">and awkward transitions.<span class="ss" style="width:5.88px"></span> To address this issue,<span class="ss" style="width:0.61px"></span> we pro-</span></div>
<div class="l i" style="left:98.30px;top:839.79px;font-size:16.67px;word-spacing:0.806px;"><span class="t" id="L13">pose a new task&mdash;multi-round dual-speaker interaction for</span></div>
<div class="l i" style="left:98.30px;top:859.80px;font-size:16.67px;word-spacing:-0.608px;"><span class="t" id="L14">3D talking head generation&mdash;which requires models to han-</span></div>
<div class="l i" style="left:98.30px;top:879.80px;font-size:16.67px;word-spacing:1.106px;"><span class="t" id="L15">dle and generate both speaking and listening behaviors in</span></div>
<div class="l i" style="left:98.30px;top:899.80px;font-size:16.67px;word-spacing:1.629px;"><span class="t" id="L16">continuous conversation.<span class="ss" style="width:4.26px"></span> To solve this task,<span class="ss" style="width:0.41px"></span> we introduce</span></div>
<div class="l i" style="left:98.30px;top:919.81px;font-size:16.67px;word-spacing:-0.033px;"><span class="t" id="L17">DualTalk,<span class="ss" style="width:0.01px"></span> a novel unified framework that integrates the dy-</span></div>
<div class="l i" style="left:98.30px;top:939.81px;font-size:16.67px;word-spacing:1.878px;"><span class="t" id="L18">namic behaviors of speakers and listeners to simulate re-</span></div>
<div class="l i" style="left:98.30px;top:959.81px;font-size:16.67px;word-spacing:0.419px;"><span class="t" id="L19">alistic and coherent dialogue interactions.<span class="ss" style="width:1.84px"></span> This framework</span></div>
<div class="l i" style="left:98.30px;top:979.81px;font-size:16.67px;word-spacing:2.523px;"><span class="t" id="L20">not only synthesizes lifelike talking heads when speaking</span></div>
<div class="l i" style="left:98.30px;top:999.82px;font-size:16.67px;word-spacing:2.260px;"><span class="t" id="L21">but also generates continuous and vivid non-verbal feed-</span></div>
<div class="l i" style="left:98.30px;top:1019.82px;font-size:16.67px;word-spacing:0.591px;"><span class="t" id="L22">back when listening,<span class="ss" style="width:0.15px"></span> effectively capturing the interplay be-</span></div>
<div class="l i" style="left:98.30px;top:1039.82px;font-size:16.67px;word-spacing:4.026px;"><span class="t" id="L23">tween the roles.<span class="ss" style="width:9.05px"></span> We also create a new dataset featur-</span></div>
<div class="l i" style="left:98.30px;top:1059.83px;font-size:16.67px;word-spacing:0.774px;"><span class="t" id="L24">ing 50 hours of multi-round conversations with over 1,000</span></div>
<div class="l i" style="left:98.30px;top:1079.83px;font-size:16.67px;word-spacing:-0.725px;"><span class="t" id="L25">characters,<span class="ss" style="width:0.14px"></span> where participants continuously switch between</span></div>
<div class="l i" style="left:98.30px;top:1099.83px;font-size:16.67px;word-spacing:-0.573px;"><span class="t" id="L26">speaking and listening roles.<span class="ss" style="width:1.38px"></span> Extensive experiments demon-</span></div>
<div class="l i" style="left:98.30px;top:1119.84px;font-size:16.67px;word-spacing:4.371px;"><span class="t" id="L27">strate that our method significantly enhances the natu-</span></div>
<div class="l " style="left:122.20px;top:1153.40px;font-size:13.34px;"><span class="t" id="L28">This work was done during Ziqiao Peng&rsquo;s internship at Ant Group.</span></div>
<div class="l " style="left:116.60px;top:1169.10px;font-size:13.34px;"><span class="t" id="L29"><sup class="fs" style="font-size:0.62em;margin-right:0.6px;top:-0.62em">&lowast;</sup>Project Leader.</span></div>
<div class="l " style="left:116.60px;top:1185.00px;font-size:13.34px;"><span class="t" id="L30"><sup class="fs" style="margin-right:0.8px">&dagger;</sup>Corresponding Authors.</span></div>
<div class="l i" style="left:530.60px;top:678.57px;font-size:16.67px;word-spacing:3.149px;"><span class="t" id="L31">ralness and expressiveness of 3D talking heads in dual-</span></div>
<div class="l i" style="left:530.60px;top:698.58px;font-size:16.67px;word-spacing:1.774px;"><span class="t" id="L32">speaker conversations.<span class="ss" style="width:4.55px"></span> We recommend watching the sup-</span></div>
<div class="l i" style="left:530.60px;top:718.58px;font-size:16.67px;"><span class="t" id="L33">plementary<span class="q" style="width:6.3px"></span> video:<span class="u" style="letter-spacing:0.6px">https://ziqiaopeng.github.</span></span></div>
<div class="l i" style="left:530.60px;top:738.58px;font-size:16.67px;"><span class="t" id="L34"><span class="u" style="letter-spacing:0.3px">io/dualtalk</span></span></div>
<div class="l b" style="left:530.60px;top:805.95px;font-size:20.00px;"><span class="t" id="L35">1.&#160;Introduction</span></div>
<div class="l " style="left:530.60px;top:840.87px;font-size:16.67px;word-spacing:3.257px;"><span class="t" id="L36">Interactive conversational agents [<span class="c">5</span>,<span class="ss" style="width:0.81px"></span> <span class="c">8</span>,<span class="ss" style="width:0.81px"></span> <span class="c">21</span>,<span class="ss" style="width:0.81px"></span> <span class="c">44</span>],<span class="ss" style="width:0.81px"></span> particu-</span></div>
<div class="l " style="left:530.60px;top:860.88px;font-size:16.67px;word-spacing:2.723px;"><span class="t" id="L37">larly 3D talking heads [<span class="c">20</span>,<span class="ss" style="width:0.68px"></span> <span class="c">30</span>,<span class="ss" style="width:0.68px"></span> <span class="c">35</span>,<span class="ss" style="width:0.68px"></span> <span class="c">40</span>,<span class="ss" style="width:0.68px"></span> <span class="c">50</span>],<span class="ss" style="width:0.68px"></span> are increas-</span></div>
<div class="l " style="left:530.60px;top:880.88px;font-size:16.67px;word-spacing:0.840px;"><span class="t" id="L38">ingly central to diverse applications,<span class="ss" style="width:0.21px"></span> such as customer ser-</span></div>
<div class="l " style="left:530.60px;top:900.88px;font-size:16.67px;word-spacing:3.177px;"><span class="t" id="L39">vice,<span class="ss" style="width:0.79px"></span> remote work,<span class="ss" style="width:0.79px"></span> educational platforms,<span class="ss" style="width:0.79px"></span> and entertain-</span></div>
<div class="l " style="left:530.60px;top:920.89px;font-size:16.67px;word-spacing:2.632px;"><span class="t" id="L40">ment [<span class="c">2</span>,<span class="ss" style="width:0.66px"></span> <span class="c">13</span>,<span class="ss" style="width:0.66px"></span> <span class="c">32</span>,<span class="ss" style="width:0.66px"></span> <span class="c">47</span>,<span class="ss" style="width:0.66px"></span> <span class="c">48</span>].<span class="ss" style="width:6.26px"></span> The ability of these agents to</span></div>
<div class="l " style="left:530.60px;top:940.89px;font-size:16.67px;word-spacing:0.583px;"><span class="t" id="L41">engage in human-like conversations significantly enhances</span></div>
<div class="l " style="left:530.60px;top:960.89px;font-size:16.67px;word-spacing:1.277px;"><span class="t" id="L42">user experience,<span class="ss" style="width:0.32px"></span> offering more intuitive and accessible in-</span></div>
<div class="l " style="left:530.60px;top:980.90px;font-size:16.67px;word-spacing:2.450px;"><span class="t" id="L43">teractions [<span class="c">45</span>].<span class="ss" style="width:5.90px"></span> Fluid conversations between participants</span></div>
<div class="l " style="left:530.60px;top:1000.90px;font-size:16.67px;word-spacing:3.722px;"><span class="t" id="L44">are crucial,<span class="ss" style="width:0.93px"></span> as they make interactions more lifelike and</span></div>
<div class="l " style="left:530.60px;top:1020.90px;font-size:16.67px;"><span class="t" id="L45">deepen emotional and cognitive engagement.</span></div>
<div class="l " style="left:550.60px;top:1044.27px;font-size:16.67px;word-spacing:3.286px;"><span class="t" id="L46">However,<span class="ss" style="width:0.82px"></span> existing 3D talking head methods typically</span></div>
<div class="l " style="left:530.60px;top:1064.28px;font-size:16.67px;word-spacing:0.640px;"><span class="t" id="L47">model either the speaker [<span class="c">7</span>,<span class="ss" style="width:0.16px"></span> <span class="c">10</span>,<span class="ss" style="width:0.16px"></span> <span class="c">36</span>,<span class="ss" style="width:0.16px"></span> <span class="c">51</span>] or the listener [<span class="c">27</span>,</span></div>
<div class="l " style="left:530.60px;top:1084.28px;font-size:16.67px;word-spacing:2.781px;"><span class="t" id="L48"><span class="c">37</span>] independently,<span class="ss" style="width:0.70px"></span> overlooking the dynamic role-shifting</span></div>
<div class="l " style="left:530.60px;top:1104.28px;font-size:16.67px;word-spacing:0.911px;"><span class="t" id="L49">inherent in real-world interactions,<span class="ss" style="width:0.23px"></span> where individuals tran-</span></div>
<div class="l " style="left:530.60px;top:1124.29px;font-size:16.67px;word-spacing:0.159px;"><span class="t" id="L50">sition seamlessly between speaking and listening.<span class="ss" style="width:1.32px"></span> Speaker-</span></div>
<div class="l " style="left:530.60px;top:1144.29px;font-size:16.67px;word-spacing:3.606px;"><span class="t" id="L51">only models [<span class="c">33</span>,<span class="ss" style="width:0.90px"></span> <span class="c">34</span>,<span class="ss" style="width:0.90px"></span> <span class="c">41</span>,<span class="ss" style="width:0.90px"></span> <span class="c">46</span>] generate synchronized lip</span></div>
<div class="l " style="left:530.60px;top:1164.29px;font-size:16.67px;word-spacing:1.400px;"><span class="t" id="L52">movements for speaking segments,<span class="ss" style="width:0.35px"></span> yet largely neglect the</span></div>
<div class="l " style="left:530.60px;top:1184.30px;font-size:16.67px;word-spacing:1.601px;"><span class="t" id="L53">essential listening behaviors that contribute to natural and</span></div>
<div id="rule"></div>
</div>
</body>
</html>
